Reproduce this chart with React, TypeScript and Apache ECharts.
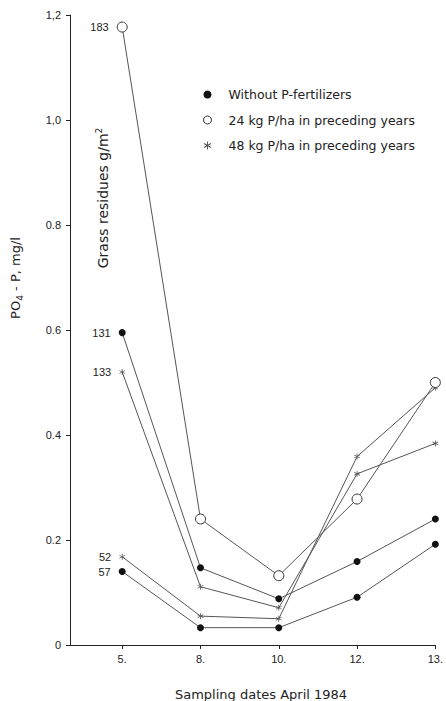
import React, { useEffect, useRef } from 'react';
import * as echarts from 'echarts';

// Sampling dates (April 1984) and y-axis tick labels
const dateLabels = ['5.', '8.', '10.', '12.', '13.'];
const yTickLabels = ['0', '0.2', '0.4', '0.6', '0.8', '1,0', '1,2'];

// PO4-P concentration, mg/l, per plot
const withoutUpper = [0.595, 0.147, 0.088, 0.159, 0.24];
const withoutLower = [0.14, 0.033, 0.033, 0.091, 0.192];
const kg24 = [1.177, 0.24, 0.132, 0.278, 0.5];
const kg48Upper = [0.52, 0.111, 0.071, 0.326, 0.384];
const kg48Lower = [0.168, 0.055, 0.05, 0.359, 0.49];

// Grass residues g/m2 written next to the first sample of each plot
const residueWithoutUpper = 131;
const residueWithoutLower = 57;
const residue24 = 183;
const residue48Upper = 133;
const residue48Lower = 52;

const NAME_WITHOUT = 'Without P-fertilizers';
const NAME_24 = '24 kg P/ha in preceding years';
const NAME_48 = '48 kg P/ha in preceding years';

const FONT = '"Liberation Sans", Arial, Helvetica, sans-serif';
const WIDE_FONT = '"DejaVu Sans", "Liberation Sans", sans-serif';
const INK = '#222';
const LINE = '#555';

const FILLED_STYLE = { color: '#111' };
const OPEN_STYLE = { color: '#fff', borderColor: '#333', borderWidth: 1 };
const STAR_STYLE = { color: '#555' };

const ASTERISK =
  'path://M-0.6,-5 L0.6,-5 L0.6,5 L-0.6,5 Z ' +
  'M4.63,1.98 L4.03,3.02 L-4.63,-1.98 L-4.03,-3.02 Z ' +
  'M4.03,-3.02 L4.63,-1.98 L-4.03,3.02 L-4.63,1.98 Z';

function seriesData(values: number[], residue: number) {
  return values.map((v, i) =>
    i === 0
      ? { value: [i + 1, v], label: { show: true, formatter: String(residue) } }
      : [i + 1, v]
  );
}

function lineSeries(
  name: string,
  values: number[],
  residue: number,
  symbol: string,
  symbolSize: number,
  itemStyle: Record<string, unknown>,
  z: number
) {
  return {
    type: 'line',
    name,
    data: seriesData(values, residue),
    symbol,
    symbolSize,
    showAllSymbol: true,
    itemStyle,
    lineStyle: { color: LINE, width: 1 },
    label: {
      position: 'left',
      distance: 8,
      fontSize: 11,
      fontFamily: FONT,
      color: INK,
    },
    emphasis: { disabled: true },
    z,
  };
}

export default function App() {
  const ref = useRef<HTMLDivElement>(null);

  useEffect(() => {
    if (!ref.current) return;
    const chart = echarts.init(ref.current, null, { renderer: 'svg' });
    const tickValues = dateLabels.map((_, i) => i + 1);

    chart.setOption({
      animation: false,
      backgroundColor: '#fff',
      grid: { left: 70, right: 6, top: 15, bottom: 56, containLabel: false },
      xAxis: {
        type: 'value',
        min: 1 / 3,
        max: 5,
        axisLine: { show: true, lineStyle: { color: INK, width: 1 } },
        axisTick: {
          show: true,
          customValues: tickValues,
          length: 4,
          lineStyle: { color: INK },
        },
        axisLabel: {
          customValues: tickValues,
          formatter: (v: number) => dateLabels[Math.round(v) - 1] ?? '',
          margin: 8,
          fontSize: 11,
          fontFamily: FONT,
          color: INK,
        },
        splitLine: { show: false },
      },
      yAxis: {
        type: 'value',
        min: 0,
        max: 1.2,
        interval: 0.2,
        axisLine: { show: true, lineStyle: { color: INK, width: 1 } },
        axisTick: { show: true, length: 4, lineStyle: { color: INK } },
        axisLabel: {
          formatter: (v: number) => yTickLabels[Math.round(v / 0.2)] ?? '',
          margin: 9,
          fontSize: 11,
          fontFamily: FONT,
          color: INK,
        },
        splitLine: { show: false },
      },
      legend: {
        orient: 'vertical',
        left: 198,
        top: 83,
        itemWidth: 8,
        itemHeight: 8,
        itemGap: 12.5,
        selectedMode: false,
        textStyle: {
          fontSize: 12.5,
          fontFamily: WIDE_FONT,
          color: INK,
          padding: [0, 0, 0, 12],
        },
        data: [
          { name: NAME_WITHOUT, icon: 'circle', itemStyle: FILLED_STYLE },
          { name: NAME_24, icon: 'circle', itemStyle: OPEN_STYLE },
          { name: NAME_48, icon: ASTERISK, itemStyle: STAR_STYLE },
        ],
      },
      graphic: [
        {
          type: 'text',
          x: 15,
          y: 278,
          rotation: Math.PI / 2,
          style: {
            text: 'PO{sub|4} - P, mg/l',
            font: `13px ${WIDE_FONT}`,
            fill: INK,
            align: 'center',
            verticalAlign: 'middle',
            rich: {
              sub: { fontSize: 9, fontFamily: WIDE_FONT, fill: INK, padding: [9, 0, 0, 0] },
            },
          },
        },
        {
          type: 'text',
          x: 103,
          y: 198,
          rotation: Math.PI / 2,
          style: {
            text: 'Grass residues g/m{sup|2}',
            font: `14px ${WIDE_FONT}`,
            fill: INK,
            align: 'center',
            verticalAlign: 'middle',
            rich: {
              sup: { fontSize: 9, fontFamily: WIDE_FONT, fill: INK, padding: [0, 0, 9, 0] },
            },
          },
        },
        {
          type: 'text',
          x: 261,
          y: 694,
          style: {
            text: 'Sampling dates April 1984',
            font: `13px ${WIDE_FONT}`,
            fill: INK,
            align: 'center',
            verticalAlign: 'middle',
          },
        },
      ],
      series: [
        lineSeries(NAME_48, kg48Upper, residue48Upper, ASTERISK, 6, STAR_STYLE, 2),
        lineSeries(NAME_48, kg48Lower, residue48Lower, ASTERISK, 6, STAR_STYLE, 2),
        lineSeries(NAME_WITHOUT, withoutUpper, residueWithoutUpper, 'circle', 7, FILLED_STYLE, 3),
        lineSeries(NAME_WITHOUT, withoutLower, residueWithoutLower, 'circle', 7, FILLED_STYLE, 3),
        lineSeries(NAME_24, kg24, residue24, 'circle', 10, OPEN_STYLE, 4),
      ],
    });

    return () => chart.dispose();
  }, []);

  return (
    <div
      ref={ref}
      style={{ position: 'absolute', left: 0, top: 0, width: 446, height: 701 }}
    />
  );
}
